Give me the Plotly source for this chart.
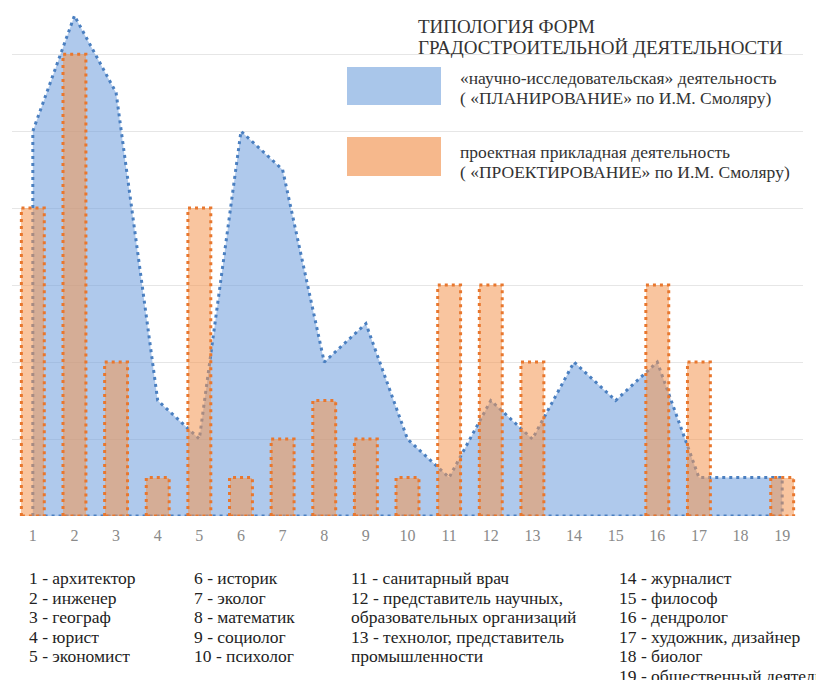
import plotly.graph_objects as go

# x categories and values
codes = list(range(1, 20))
planning = [10, 13, 11, 3, 2, 10, 9, 4, 5, 2, 1, 3, 2, 4, 3, 4, 1, 1, 1]
design = [8, 12, 4, 1, 8, 1, 2, 3, 2, 1, 6, 6, 4, 0, 0, 6, 4, 0, 1]

names = [
    "1 - архитектор", "2 - инженер", "3 - географ", "4 - юрист", "5 - экономист",
    "6 - историк", "7 - эколог", "8 - математик", "9 - социолог", "10 - психолог",
    "11 - санитарный врач",
    "12 - представитель научных,\nобразовательных организаций",
    "13 - технолог, представитель\nпромышленности",
    "14 - журналист", "15 - философ", "16 - дендролог",
    "17 - художник, дизайнер", "18 - биолог", "19 - общественный деятель",
]
columns = [(0, 5), (5, 10), (10, 13), (13, 19)]

title_lines = ["ТИПОЛОГИЯ ФОРМ", "ГРАДОСТРОИТЕЛЬНОЙ ДЕЯТЕЛЬНОСТИ"]
legend_blue = ["«научно-исследовательская» деятельность", "( «ПЛАНИРОВАНИЕ» по И.М. Смоляру)"]
legend_orange = ["проектная прикладная деятельность", "( «ПРОЕКТИРОВАНИЕ» по И.М. Смоляру)"]

# the page body has an 8px margin, so the figure is drawn 8px smaller and offset
OFF = 8
W, H = 824 - OFF, 680 - OFF
L, R, T, B = 4, 21, 0, 164
SERIF = "Liberation Serif"
BLUE_FILL = "rgba(110,156,220,0.55)"
BLUE_LINE = "#4a7fc0"
ORANGE_FILL = "rgba(244,150,80,0.55)"
ORANGE_LINE = "#e8772e"
DOTS = "3px,4px"
BAR_W = 0.55


def px_x(x):
    # page pixel -> paper fraction
    return (x - OFF - L) / (W - L - R)


def px_y(y):
    return (H - B - (y - OFF)) / (H - T - B)


fig = go.Figure()

# blue area, closed down to the baseline so the dotted border runs all round
area_x = [codes[0]] + codes + [codes[-1], codes[0]]
area_y = [0] + planning + [0, 0]
fig.add_trace(
    go.Scatter(
        x=area_x,
        y=area_y,
        mode="lines",
        fill="toself",
        fillcolor=BLUE_FILL,
        line=dict(color=BLUE_LINE, width=3, dash=DOTS),
        hoverinfo="skip",
        showlegend=False,
    )
)

# orange bars on an overlaid axis so they sit above the area
fig.add_trace(
    go.Bar(
        x=codes,
        y=design,
        width=BAR_W,
        marker=dict(color=ORANGE_FILL, line=dict(width=0)),
        xaxis="x2",
        yaxis="y2",
        showlegend=False,
    )
)

# dotted outline of the bars
ox, oy = [], []
for c, v in zip(codes, design):
    if v <= 0:
        continue
    a, b = c - BAR_W / 2, c + BAR_W / 2
    ox += [a, a, b, b, a, None]
    oy += [0, v, v, 0, 0, None]
fig.add_trace(
    go.Scatter(
        x=ox,
        y=oy,
        mode="lines",
        line=dict(color=ORANGE_LINE, width=3, dash=DOTS),
        xaxis="x2",
        yaxis="y2",
        hoverinfo="skip",
        showlegend=False,
    )
)

shapes = []
annotations = []

# legend block in the top right corner
for i, line in enumerate(title_lines):
    annotations.append(dict(
        x=px_x(416), y=px_y(26 + i * 22), text=line, xanchor="left", yanchor="middle",
        font=dict(family=SERIF, size=19, color="#333333"),
    ))
legend_rows = [((67, 105), "#a9c6ea", legend_blue, 78), ((137, 176), "#f6b88c", legend_orange, 152)]
for (y0, y1), fill, lines, ty in legend_rows:
    shapes.append(dict(
        type="rect", xref="paper", yref="paper", x0=px_x(347), x1=px_x(441),
        y0=px_y(y1), y1=px_y(y0), fillcolor=fill, line=dict(width=0), layer="below",
    ))
    for i, line in enumerate(lines):
        annotations.append(dict(
            x=px_x(458), y=px_y(ty + i * 19.5), text=line, xanchor="left", yanchor="middle",
            font=dict(family=SERIF, size=17.5, color="#333333"),
        ))

# key to the numbers under the chart
col_x = [27, 192, 349, 617]
for cx, (s, e) in zip(col_x, columns):
    rows = []
    for n in names[s:e]:
        rows += n.split("\n")
    for i, row in enumerate(rows):
        annotations.append(dict(
            x=px_x(cx), y=px_y(578 + i * 19.6), text=row, xanchor="left", yanchor="middle",
            font=dict(family=SERIF, size=17.5, color="#222222"),
        ))

for a in annotations:
    a.update(xref="paper", yref="paper", showarrow=False)

xax = dict(
    range=[0.5, 19.5],
    tickmode="array",
    tickvals=codes,
    ticktext=[str(c) for c in codes],
    showgrid=False,
    zeroline=False,
    showline=False,
)
yax = dict(range=[0, 13.2], dtick=2, showticklabels=False, zeroline=False)

fig.update_layout(
    width=W,
    height=H,
    margin=dict(l=L, r=R, t=T, b=B),
    paper_bgcolor="white",
    plot_bgcolor="white",
    xaxis=dict(xax, tickfont=dict(family=SERIF, size=16, color="#8a8a8a"), ticklabelstandoff=8),
    yaxis=dict(yax, showgrid=True, gridcolor="#e6e6e6", gridwidth=1),
    xaxis2=dict(xax, overlaying="x", showticklabels=False),
    yaxis2=dict(yax, overlaying="y", showgrid=False),
    bargap=0,
    shapes=shapes,
    annotations=annotations,
)

fig.write_html("out.html")
